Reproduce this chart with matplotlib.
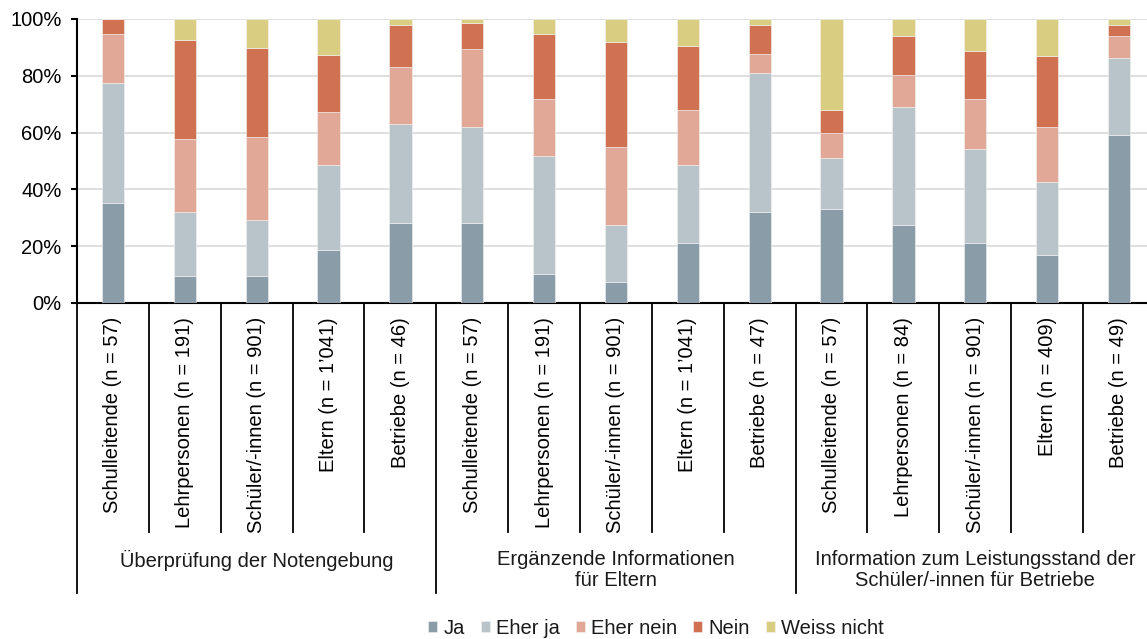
import numpy as np
import matplotlib
matplotlib.use('Agg')
import matplotlib.pyplot as plt
import matplotlib.transforms as mtransforms

plt.rcParams['font.family'] = ['Liberation Sans', 'DejaVu Sans']
plt.rcParams['text.color'] = '#1a1a1a'

categories = ['Schulleitende (n = 57)', 'Lehrpersonen (n = 191)', 'Schüler/-innen (n = 901)',
              'Eltern (n = 1\u2019041)', 'Betriebe (n = 46)',
              'Schulleitende (n = 57)', 'Lehrpersonen (n = 191)', 'Schüler/-innen (n = 901)',
              'Eltern (n = 1\u2019041)', 'Betriebe (n = 47)',
              'Schulleitende (n = 57)', 'Lehrpersonen (n = 84)', 'Schüler/-innen (n = 901)',
              'Eltern (n = 409)', 'Betriebe (n = 49)']
groups = ['Überprüfung der Notengebung',
          'Ergänzende Informationen\nfür Eltern',
          'Information zum Leistungsstand der\nSchüler/-innen für Betriebe']

ja = [35.3, 9.4, 9.4, 18.8, 28.0, 28.0, 10.1, 7.4, 21.3, 31.9, 33.2, 27.3, 21.3, 16.8, 59.0]
eher_ja = [42.3, 22.6, 20.0, 29.9, 35.0, 33.8, 41.8, 20.0, 27.4, 49.0, 18.0, 41.6, 33.1, 25.8, 27.2]
eher_nein = [17.1, 25.8, 29.1, 18.4, 20.0, 27.6, 19.8, 27.7, 19.1, 6.8, 8.5, 11.4, 17.3, 19.2, 7.9]
nein = [5.3, 34.9, 31.4, 20.4, 15.0, 9.3, 22.9, 36.9, 22.8, 10.3, 8.4, 13.7, 17.0, 25.0, 3.9]
weiss_nicht = [0.0, 7.3, 10.1, 12.5, 2.0, 1.3, 5.4, 8.0, 9.4, 2.0, 31.9, 6.0, 11.3, 13.2, 2.0]

series = [('Ja', ja, '#8a9ca8'),
          ('Eher ja', eher_ja, '#b8c4c9'),
          ('Eher nein', eher_nein, '#e2a897'),
          ('Nein', nein, '#d07152'),
          ('Weiss nicht', weiss_nicht, '#d8cd80')]

fs = 14.5

fig = plt.figure(figsize=(11.47, 6.39), dpi=100)
ax = fig.add_axes([77 / 1147, 1 - 303 / 639, 1 - 77 / 1147, (303 - 19) / 639])

x = np.arange(len(categories))
bottom = np.zeros(len(categories))
for name, vals, col in series:
    ax.bar(x, vals, 0.31, bottom=bottom, color=col, label=name,
           edgecolor='#f4f4f4', linewidth=0.4, zorder=3)
    bottom += np.array(vals)

ax.set_ylim(0, 100)
ax.set_xlim(-0.5, 14.39)
ax.set_yticks(np.arange(0, 101, 20))
ax.set_yticklabels(['{}%'.format(v) for v in range(0, 101, 20)], fontsize=fs)
ax.yaxis.grid(True, color='#d9d9d9', linewidth=1.2, zorder=0)
ax.tick_params(axis='y', length=4, width=1.5, direction='out', pad=7)

ax.set_xticks(x)
ax.set_xticklabels(categories, rotation=90, fontsize=fs, va='top')
ax.tick_params(axis='x', length=0, pad=10)

for s in ['top', 'right']:
    ax.spines[s].set_visible(False)
ax.spines['left'].set_linewidth(1.5)
ax.spines['bottom'].set_linewidth(1.5)

# Trennlinien unter der Achse
trans = mtransforms.blended_transform_factory(ax.transData, ax.transAxes)
for i in range(len(categories) + 1):
    pos = i - 0.5
    low = -1.021 if i % 5 == 0 else -0.806
    ax.plot([pos, pos], [0, low], color='black', linewidth=1.3,
            transform=trans, clip_on=False)

for g, label in enumerate(groups):
    ax.text(g * 5 + 2, -0.87, label, transform=trans, ha='center', va='top',
            fontsize=fs, linespacing=1.1)

fig.legend(loc='center', bbox_to_anchor=(656 / 1147, 1 - 628 / 639), ncol=5,
           frameon=False, fontsize=fs, handlelength=0.45, handleheight=0.45,
           handletextpad=0.3, columnspacing=0.8)

fig.savefig('out.png', dpi=100)
